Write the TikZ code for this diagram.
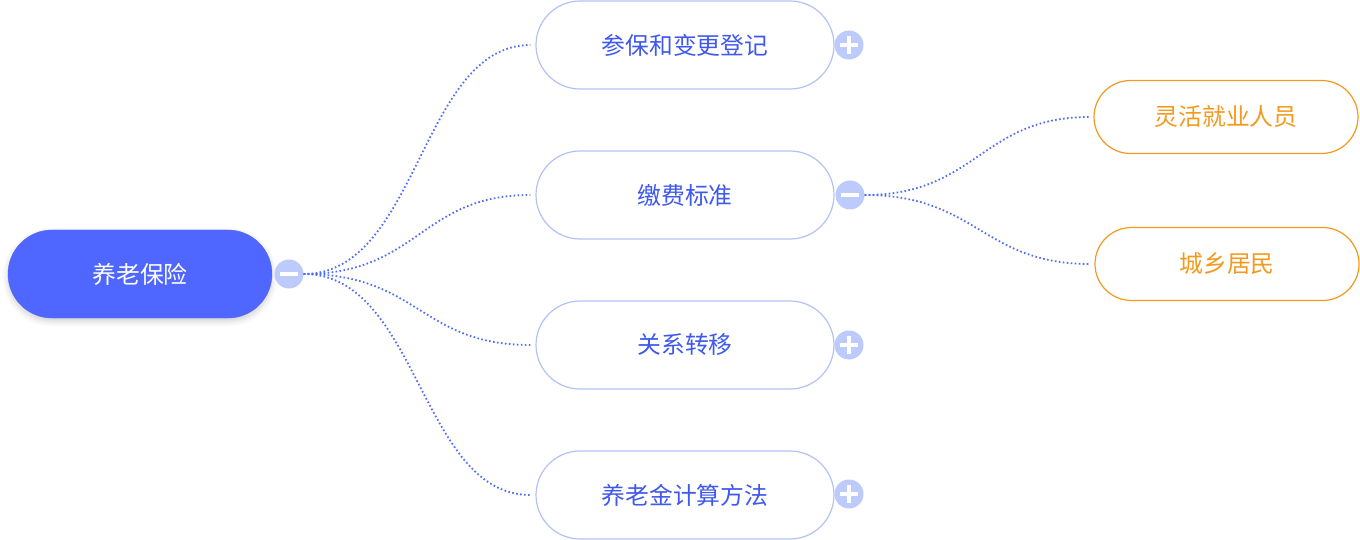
\documentclass[tikz,border=0pt]{standalone}
\usepackage{fontspec}
\setmainfont{Noto Sans CJK SC}
\usetikzlibrary{shadows.blur}
\definecolor{rootblue}{HTML}{4F67FF}
\definecolor{linkblue}{HTML}{4F6EF7}
\definecolor{edgeblue}{HTML}{B3C2F5}
\definecolor{txtblue}{HTML}{3F58EE}
\definecolor{btnblue}{HTML}{BCCBFB}
\definecolor{orng}{HTML}{F39A1E}
\begin{document}
\begin{tikzpicture}[x=1pt,y=-1pt,
  rootnode/.style={draw=rootblue, fill=rootblue, rounded corners=44pt, minimum width=264pt, minimum height=88pt, text=white, font=\fontsize{23.8}{26}\selectfont, blur shadow={shadow xshift=0pt, shadow yshift=-3pt, shadow blur radius=6pt, shadow opacity=20}},
  topic/.style={draw=edgeblue, line width=1.2pt, fill=white, rounded corners=44pt, minimum width=298pt, minimum height=88pt, text=txtblue, font=\fontsize{23.8}{26}\selectfont},
  subtopic/.style={draw=orng, line width=1.2pt, fill=white, rounded corners=36.5pt, minimum width=264pt, minimum height=73pt, text=orng, font=\fontsize{23.8}{26}\selectfont},
  btn/.style={circle, fill=btnblue, minimum size=29pt, inner sep=0pt},
  link/.style={draw=linkblue, line width=1.8pt, dash pattern=on 1.6pt off 2.4pt},
  sign/.style={draw=white, line width=3.4pt}
]
\useasboundingbox (0,0) rectangle (1360,540);
% nodes
\node[rootnode] (root) at (140,274) {养老保险};
\node[btn] (rootbtn) at (289,274) {};
\node[topic] (a) at (685,45) {参保和变更登记};
\node[topic] (b) at (685,195) {缴费标准};
\node[topic] (c) at (685,345) {关系转移};
\node[topic] (d) at (685,495) {养老金计算方法};
\node[btn] (abtn) at (849,45) {};
\node[btn] (bbtn) at (850,195) {};
\node[btn] (cbtn) at (849,345) {};
\node[btn] (dbtn) at (849,494) {};
\node[subtopic] (e) at (1226,117) {灵活就业人员};
\node[subtopic] (f) at (1227,264) {城乡居民};
% signs
\draw[sign] ([xshift=-9pt]rootbtn.center) -- ([xshift=9pt]rootbtn.center);
\draw[sign] ([xshift=-9pt]bbtn.center) -- ([xshift=9pt]bbtn.center);
\foreach \n in {abtn,cbtn,dbtn}{
  \draw[sign] ([xshift=-9pt]\n.center) -- ([xshift=9pt]\n.center);
  \draw[sign] ([yshift=-9pt]\n.center) -- ([yshift=9pt]\n.center);
}
% links
\foreach \t in {a,b,c,d}{
  \draw[link, shorten >=5pt] (rootbtn.east) .. controls +(115,0) and +(-115,0) .. (\t.west);
}
\foreach \t in {e,f}{
  \draw[link, shorten >=4pt] (bbtn.east) .. controls +(112,0) and +(-112,0) .. (\t.west);
}
\end{tikzpicture}
\end{document}
